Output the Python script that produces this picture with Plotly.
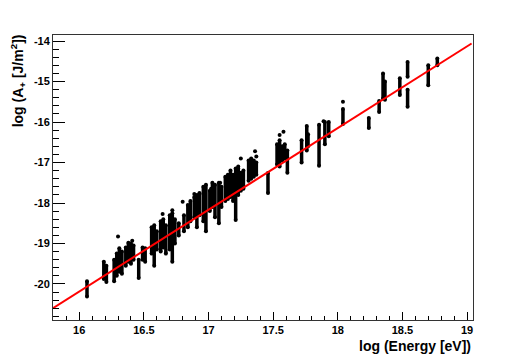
import plotly.graph_objects as go

# vertical stacks of events: energy bin, lowest and highest log(A+)
col_x = [16.06, 16.19, 16.21, 16.27, 16.29, 16.31, 16.33, 16.36, 16.38, 16.40,
         16.42, 16.46, 16.49, 16.51, 16.56, 16.58, 16.60, 16.63, 16.65, 16.67,
         16.70, 16.72, 16.74, 16.77, 16.81, 16.84, 16.86, 16.89, 16.91, 16.93,
         16.96, 16.98, 17.01, 17.03, 17.05, 17.08, 17.10, 17.13, 17.15, 17.17,
         17.19, 17.21, 17.23, 17.25, 17.27, 17.31, 17.33, 17.35, 17.37, 17.46,
         17.53, 17.55, 17.57, 17.59, 17.61, 17.72, 17.76, 17.77, 17.855, 17.90,
         17.93, 18.04, 18.24, 18.32, 18.35, 18.365, 18.48, 18.54, 18.54, 18.70,
         18.77]
col_lo = [-20.31, -19.88, -19.95, -19.93, -19.80, -19.70, -19.75, -19.55, -19.45, -19.50,
          -19.40, -19.85, -19.40, -19.45, -19.25, -19.55, -19.15, -19.20, -19.10, -19.25,
          -19.15, -19.45, -19.00, -18.80, -18.70, -18.60, -18.45, -18.35, -18.60, -18.30,
          -18.45, -18.70, -18.20, -18.10, -18.35, -18.50, -18.10, -17.95, -17.90, -17.85,
          -17.95, -18.42, -17.80, -17.70, -17.65, -17.45, -17.40, -17.35, -17.30, -17.75,
          -17.05, -17.10, -16.95, -16.90, -17.25, -17.00, -16.70, -16.60, -17.08, -16.55,
          -16.35, -16.05, -16.15, -15.75, -15.42, -15.45, -15.33, -14.88, -15.62, -15.09,
          -14.60]
col_hi = [-19.93, -19.45, -19.55, -19.40, -19.25, -19.12, -19.20, -19.10, -18.98, -19.00,
          -19.05, -19.40, -19.10, -19.12, -18.60, -18.55, -18.70, -18.45, -18.40, -18.55,
          -18.30, -18.25, -18.40, -18.50, -18.30, -18.05, -17.95, -17.85, -17.80, -17.75,
          -17.60, -17.55, -17.70, -17.50, -17.55, -17.50, -17.60, -17.35, -17.30, -17.20,
          -17.30, -17.15, -17.10, -17.25, -17.20, -16.95, -16.90, -16.95, -17.00, -17.26,
          -16.55, -16.45, -16.60, -16.55, -16.70, -16.45, -16.10, -16.30, -16.07, -16.00,
          -16.00, -15.68, -15.90, -15.48, -14.80, -15.00, -14.92, -14.52, -15.20, -14.60,
          -14.43]

# isolated events
out_x = [16.30, 16.41, 16.645, 16.72, 16.80, 16.89, 16.93, 17.02, 17.09, 17.23,
         17.25, 17.36, 17.37, 17.55, 17.58, 17.89, 18.04]
out_y = [-18.83, -18.93, -18.27, -18.18, -17.97, -17.78, -17.78, -17.65, -17.50, -17.15,
         -16.90, -16.72, -16.85, -16.32, -16.24, -15.98, -15.50]

# linear fit, end points
fit_x = [15.80, 19.035]
fit_y = [-20.59, -14.06]

x_ticks = [16, 16.5, 17, 17.5, 18, 18.5, 19]
x_labels = ["16", "16.5", "17", "17.5", "18", "18.5", "19"]
y_ticks = [-20, -19, -18, -17, -16, -15, -14]
y_labels = ["-20", "-19", "-18", "-17", "-16", "-15", "-14"]

sx, sy = [], []
for x, lo, hi in zip(col_x, col_lo, col_hi):
    sx += [x, x, None]
    sy += [lo, hi, None]

fig = go.Figure()
fig.add_trace(go.Scatter(x=sx, y=sy, mode="lines+markers",
                         line=dict(color="black", width=3.5),
                         marker=dict(color="black", size=4), showlegend=False))
fig.add_trace(go.Scatter(x=out_x, y=out_y, mode="markers",
                         marker=dict(color="black", size=4), showlegend=False))
fig.add_trace(go.Scatter(x=fit_x, y=fit_y, mode="lines",
                         line=dict(color="#ff0000", width=2), showlegend=False))

font = dict(family="Liberation Sans", size=11, color="black", weight="bold")
fig.update_xaxes(range=[15.797, 19.046], tickvals=x_ticks, ticktext=x_labels,
                 ticks="inside", ticklen=8, tickcolor="black",
                 minor=dict(ticks="inside", ticklen=4, dtick=0.1, tick0=16, tickcolor="black"),
                 showline=True, linecolor="#333333", linewidth=1, mirror=True,
                 showgrid=False, zeroline=False, tickfont=font)
fig.update_yaxes(range=[-20.89, -13.85], tickvals=y_ticks, ticktext=y_labels,
                 ticks="inside", ticklen=12, tickcolor="black",
                 minor=dict(ticks="inside", ticklen=6, dtick=0.2, tick0=-20, tickcolor="black"),
                 showline=True, linecolor="#333333", linewidth=1, mirror=True,
                 showgrid=False, zeroline=False, tickfont=font)

title_font = dict(family="Liberation Sans", size=14, color="black")
fig.add_annotation(text="<b>log (Energy [eV])</b>", xref="paper", yref="paper",
                   x=1, y=-0.055, xanchor="right", yanchor="top", showarrow=False,
                   font=title_font)
fig.add_annotation(text="<b>log (A<sub>+</sub> [J/m<sup>2</sup>])</b>", xref="paper", yref="paper",
                   x=-0.084, y=1.01, xanchor="center", yanchor="top", textangle=-90,
                   showarrow=False, font=title_font)

# page body keeps an 8px margin, so the figure is shifted by 8px
fig.update_layout(width=510, height=348, margin=dict(l=45, r=45, t=27, b=36),
                  plot_bgcolor="white", paper_bgcolor="white",
                  font=dict(family="Liberation Sans", size=11, color="black"))
fig.write_html("out.html")
